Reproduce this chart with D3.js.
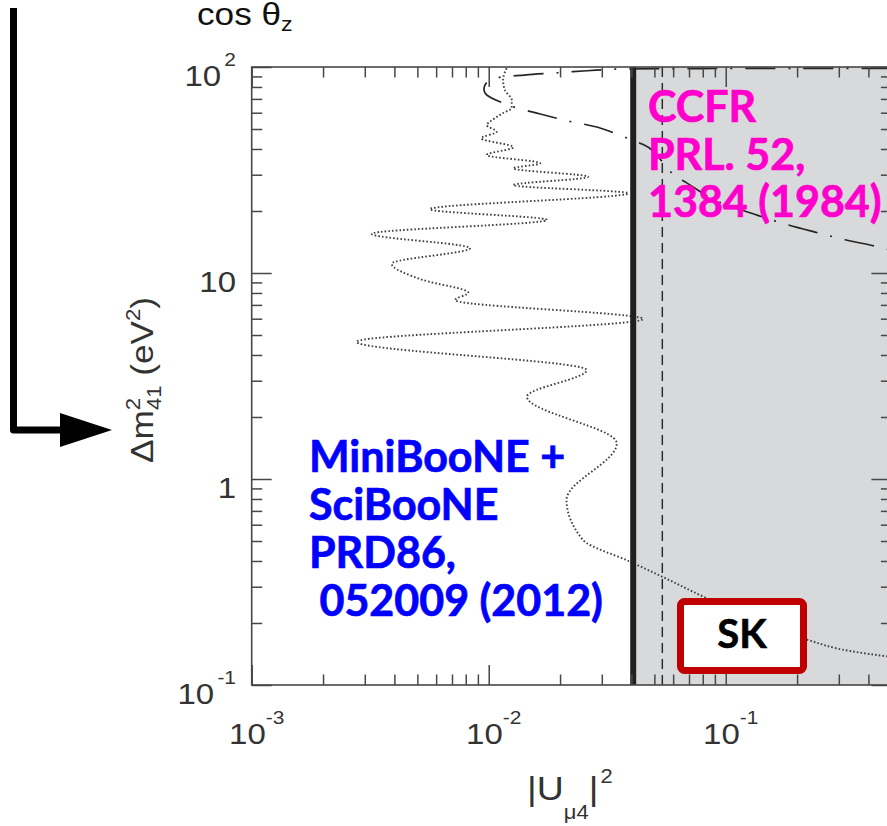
<!DOCTYPE html>
<html>
<head>
<meta charset="utf-8">
<script src="https://cdn.jsdelivr.net/npm/d3@7"></script>
<style>
  html, body { margin: 0; padding: 0; background: #fff; overflow: hidden; }
  text { font-family: "Liberation Sans", Arial, sans-serif; }
  .note { font-family: Lato, "Open Sans", sans-serif; font-weight: 700; }
</style>
</head>
<body>
<svg id="chart" width="887" height="826"></svg>
<script>
// MiniBooNE + SciBooNE exclusion contour: |U_mu4|^2 vs Delta m^2_41 (eV^2)
const miniSciU = [0.0119, 0.0115, 0.0117, 0.0125, 0.0125, 0.0115, 0.0101, 0.0098, 0.0108, 0.0093,
                  0.0127, 0.0098, 0.0165, 0.0127, 0.0263, 0.0127, 0.0388, 0.00565, 0.0176, 0.00321,
                  0.00834, 0.0039, 0.00528, 0.0082, 0.00721, 0.0448, 0.00277, 0.0259, 0.0145, 0.0347,
                  0.0213, 0.025, 0.0395, 0.0544, 0.081, 0.127, 0.2225, 0.3345, 0.50];
const miniSciDm2 = [98.6, 86.5, 77.3, 69.2, 63.2, 59.8, 54.1, 52.3, 48.5, 45.1,
                    40.8, 37.4, 34.1, 32.2, 29.3, 26.7, 24.4, 20.4, 18.1, 15.5,
                    13.2, 11.1, 9.25, 8.02, 7.39, 5.98, 4.64, 3.38, 2.51, 1.49,
                    0.791, 0.506, 0.397, 0.334, 0.2675, 0.2114, 0.1654, 0.1462, 0.1368];

// CCFR exclusion contour
const ccfrU = [0.50, 0.206, 0.0779, 0.0358, 0.0260, 0.0196, 0.0142, 0.0108, 0.0097, 0.00965,
               0.0121, 0.0165, 0.0216, 0.0295, 0.0383, 0.0443, 0.0489, 0.0599, 0.0687, 0.0901,
               0.1355, 0.178, 0.238, 0.319, 0.427, 0.50];
const ccfrDm2 = [98.5, 98.5, 98.3, 97.8, 95.9, 93.8, 91.4, 88.4, 82.7, 74.8,
                 65.4, 59.1, 54.7, 50.6, 45.2, 42.3, 39.5, 30.2, 27.3, 22.6,
                 19.1, 17.3, 15.8, 14.5, 13.5, 12.9];

// Vertical limits on |U_mu4|^2
const skLimitU = 0.0407;      // solid limit, excluded region shaded to its right
const dashedLimitU = 0.054;   // dashed limit

// Axis extents and tick labels
const xDomain = [1e-3, 0.5];
const yDomain = [0.1, 100];
const xMajorTicks = [1e-3, 1e-2, 1e-1];
const xTickExponents = ["-3", "-2", "-1"];
const yMajorTicks = [0.1, 1, 10, 100];
const yTickBases = ["10", "1", "10", "10"];
const yTickExponents = ["-1", "", "", "2"];

// Annotation text
const ccfrLines = ["CCFR", "PRL. 52,", "1384 (1984)"];
const miniSciLines = ["MiniBooNE +", "SciBooNE", "PRD86,", " 052009 (2012)"];
const skLabel = "SK";

const svg = d3.select("#chart");
const pLeft = 251.7, pRight = 891.4, pTop = 67, pBottom = 685;

const x = d3.scaleLog().domain(xDomain).range([pLeft, pRight]);
const y = d3.scaleLog().domain(yDomain).range([pBottom, pTop]);

svg.append("defs").append("clipPath").attr("id", "plotClip")
  .append("rect").attr("x", pLeft).attr("y", pTop)
  .attr("width", pRight - pLeft).attr("height", pBottom - pTop);

// excluded region beyond the solid limit
svg.append("rect")
  .attr("x", x(skLimitU)).attr("y", pTop)
  .attr("width", pRight - x(skLimitU)).attr("height", pBottom - pTop)
  .attr("fill", "#d8d9db");

const plot = svg.append("g").attr("clip-path", "url(#plotClip)");

// MiniBooNE + SciBooNE contour (dotted)
const miniLine = d3.line()
  .x(d => x(d[0])).y(d => y(d[1]))
  .curve(d3.curveMonotoneY);
plot.append("path")
  .datum(d3.zip(miniSciU, miniSciDm2))
  .attr("d", miniLine)
  .attr("fill", "none")
  .attr("stroke", "#404040")
  .attr("stroke-width", 1.9)
  .attr("stroke-dasharray", "1.6 2.1");

// CCFR contour (dash-dot)
const ccfrLine = d3.line()
  .x(d => x(d[0])).y(d => y(d[1]))
  .curve(d3.curveCatmullRom.alpha(0.5));
plot.append("path")
  .datum(d3.zip(ccfrU, ccfrDm2))
  .attr("d", ccfrLine)
  .attr("fill", "none")
  .attr("stroke", "#262626")
  .attr("stroke-width", 1.7)
  .attr("stroke-dasharray", "30 13 2 13");

// dashed vertical limit
plot.append("line")
  .attr("x1", x(dashedLimitU)).attr("x2", x(dashedLimitU))
  .attr("y1", pTop).attr("y2", pBottom)
  .attr("stroke", "#2b2b2b").attr("stroke-width", 1.5)
  .attr("stroke-dasharray", "10 6");

// solid vertical limit
plot.append("line")
  .attr("x1", x(skLimitU)).attr("x2", x(skLimitU))
  .attr("y1", pTop).attr("y2", pBottom)
  .attr("stroke", "#231f20").attr("stroke-width", 6);

// axes: inward log ticks on all four sides
const axisColor = "#474747";
const isMajor = v => Math.abs(Math.log10(v) - Math.round(Math.log10(v))) < 1e-6;
const xMinor = x.ticks().filter(v => !isMajor(v));
const yMinor = y.ticks().filter(v => !isMajor(v));

function drawAxis(axisFn, scale, values, size, transform) {
  const g = svg.append("g").attr("transform", transform)
    .call(axisFn(scale).tickValues(values).tickSize(size).tickFormat(""));
  g.select(".domain").remove();
  g.selectAll(".tick line").attr("stroke", axisColor).attr("stroke-width", 1.5);
}
const majorLen = -20, minorLen = -10.5;
drawAxis(d3.axisBottom, x, xMajorTicks, majorLen, `translate(0,${pBottom})`);
drawAxis(d3.axisBottom, x, xMinor, minorLen, `translate(0,${pBottom})`);
drawAxis(d3.axisTop, x, xMajorTicks, majorLen, `translate(0,${pTop})`);
drawAxis(d3.axisTop, x, xMinor, minorLen, `translate(0,${pTop})`);
drawAxis(d3.axisLeft, y, yMajorTicks, majorLen, `translate(${pLeft},0)`);
drawAxis(d3.axisLeft, y, yMinor, minorLen, `translate(${pLeft},0)`);
drawAxis(d3.axisRight, y, yMajorTicks, majorLen, `translate(${pRight},0)`);
drawAxis(d3.axisRight, y, yMinor, minorLen, `translate(${pRight},0)`);

svg.append("rect")
  .attr("x", pLeft).attr("y", pTop)
  .attr("width", pRight - pLeft).attr("height", pBottom - pTop)
  .attr("fill", "none").attr("stroke", axisColor).attr("stroke-width", 1.6);

// tick labels
const labelColor = "#333";
const xLab = svg.append("g").selectAll("text")
  .data(xMajorTicks).join("text")
  .attr("transform", d => `translate(${x(d) + 5},744) scale(1.1,1)`)
  .attr("text-anchor", "middle")
  .attr("fill", labelColor)
  .style("font-size", "30px");
xLab.append("tspan").text("10");
xLab.append("tspan").attr("dy", -20).style("font-size", "19px")
  .text((d, i) => xTickExponents[i]);

const yLab = svg.append("g").selectAll("text")
  .data(yMajorTicks).join("text")
  .attr("transform", d => `translate(236,${y(d) + 19}) scale(1.1,1)`)
  .attr("text-anchor", "end")
  .attr("fill", labelColor)
  .style("font-size", "30px");
yLab.append("tspan").text((d, i) => yTickBases[i]);
yLab.append("tspan").attr("dx", 3).attr("dy", -20).style("font-size", "19px")
  .text((d, i) => yTickExponents[i]);

// axis titles
const xTitle = svg.append("text")
  .attr("transform", "translate(527,800) scale(1.1,1)")
  .attr("fill", labelColor).style("font-size", "34px");
xTitle.append("tspan").text("|U");
xTitle.append("tspan").attr("dy", 19).style("font-size", "20px").text("μ4");
xTitle.append("tspan").attr("dy", -19).text("|");
xTitle.append("tspan").attr("dx", 2).attr("dy", -17).style("font-size", "20px").text("2");

const yTitle = svg.append("text")
  .attr("transform", "translate(153,380) rotate(-90) scale(1.1,1)")
  .attr("text-anchor", "middle")
  .attr("fill", labelColor).style("font-size", "32px");
yTitle.append("tspan").text("Δm");
yTitle.append("tspan").attr("dy", -13).style("font-size", "20px").text("2");
yTitle.append("tspan").attr("dx", -11).attr("dy", 21).style("font-size", "20px").text("41");
yTitle.append("tspan").attr("dy", -8).text(" (eV");
yTitle.append("tspan").attr("dy", -13).style("font-size", "20px").text("2");
yTitle.append("tspan").attr("dy", 13).text(")");

// label of the panel above
const cosLab = svg.append("text")
  .attr("transform", "translate(197,25) scale(1.1,1)")
  .attr("fill", "#111").style("font-size", "32px");
cosLab.append("tspan").text("cos θ");
cosLab.append("tspan").attr("dy", 6).style("font-size", "21px").text("z");

// annotations
svg.append("text").attr("class", "note")
  .attr("fill", "#ff00cc").attr("stroke", "#ff00cc").attr("stroke-width", 0.7)
  .style("font-size", "43px")
  .selectAll("tspan").data(ccfrLines).join("tspan")
  .attr("x", 648).attr("y", (d, i) => 122 + i * 47.5)
  .text(d => d);

svg.append("text").attr("class", "note")
  .attr("fill", "#0000ff").attr("stroke", "#0000ff").attr("stroke-width", 0.7)
  .style("font-size", "43px")
  .style("white-space", "pre")
  .selectAll("tspan").data(miniSciLines).join("tspan")
  .attr("x", 309).attr("y", (d, i) => 472 + i * 48)
  .text(d => d);

// SK box
svg.append("rect")
  .attr("x", 680.5).attr("y", 601.5).attr("width", 123).attr("height", 69)
  .attr("rx", 4)
  .attr("fill", "#fff").attr("stroke", "#c00000").attr("stroke-width", 7);
svg.append("text").attr("class", "note")
  .attr("x", 742).attr("y", 648).attr("text-anchor", "middle")
  .attr("fill", "#000").attr("stroke", "#000").attr("stroke-width", 0.6)
  .style("font-size", "40px")
  .text(skLabel);

// pointer arrow on the left
svg.append("path")
  .attr("d", "M13.5,8 V430 H64")
  .attr("fill", "none").attr("stroke", "#000").attr("stroke-width", 7)
  .attr("stroke-linejoin", "round");
svg.append("path")
  .attr("d", "M60,413 L112,430 L60,447 Z")
  .attr("fill", "#000");
</script>
</body>
</html>
